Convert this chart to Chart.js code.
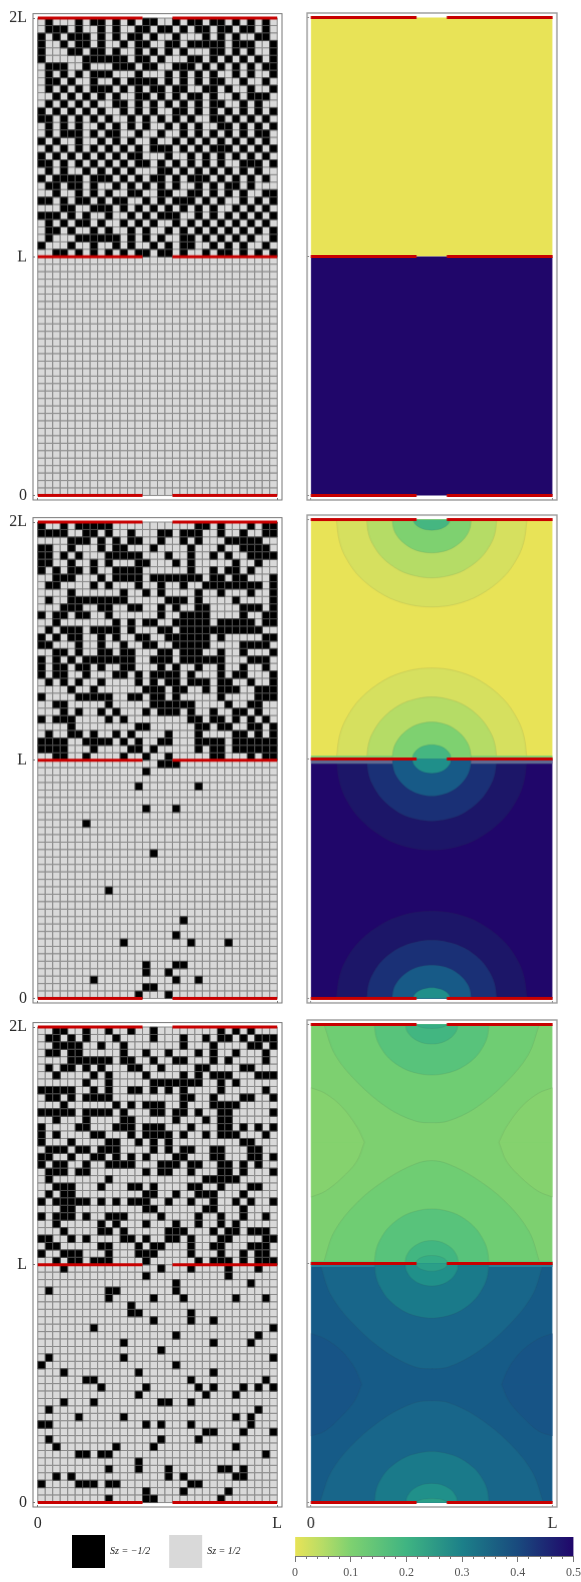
<!DOCTYPE html>
<html><head><meta charset="utf-8">
<style>html,body{margin:0;padding:0;background:#fff;width:581px;height:1582px;overflow:hidden;position:relative}canvas{position:absolute}</style>
<script src="https://cdn.jsdelivr.net/npm/chart.js@4"></script>
</head><body>
<script>
// ---------- tick labels ----------
const yTickLabels = ['0','L','2L'];
const xTickLabels = ['0','L'];
const colorbarTicks = [0,0.1,0.2,0.3,0.4,0.5];
const legendLabels = ['Sz = \u22121/2','Sz = 1/2'];

// ---------- spin lattices: columns of Sz=-1/2 cells per row, top row first ----------
const lattice1Upper = [
[1,5,7,8,10,12,14,15,18,20,21,23,24,26,28,30],
[1,2,3,5,8,10,13,14,16,17,19,21,22,24,25,27,28,30],
[0,2,4,5,6,8,10,12,13,15,18,22,24,26,29,30],
[0,3,5,6,8,11,13,14,17,18,20,21,22,23,24,26,27,28,31],
[0,4,5,7,8,10,13,15,17,19,23,24,26,28,31],
[0,6,7,8,9,10,11,13,14,16,20,21,23,25,27,29,31],
[1,2,3,6,10,11,12,14,15,18,19,20,22,24,26,28,30,31],
[1,3,5,7,8,9,13,17,19,21,23,26,28,31],
[1,2,4,7,10,12,13,14,15,17,19,21,23,24,27,30],
[1,3,5,7,8,9,11,13,15,16,18,19,22,23,25,28,31],
[2,4,6,8,10,13,14,16,18,20,21,23,26,28,29,30],
[1,3,5,7,10,11,13,15,17,19,21,23,24,27,29],
[0,2,4,6,8,11,13,15,18,19,21,23,25,27,29,31],
[0,1,3,5,7,9,12,14,16,18,20,23,24,26,28,30],
[1,3,5,8,10,12,14,17,19,21,24,25,27,29,31],
[1,3,4,5,7,9,10,13,16,19,21,23,25,27,29,30],
[0,2,5,8,10,12,15,18,20,22,24,26,28,30],
[1,3,5,7,9,11,13,15,16,17,19,21,23,24,25,27,29,31],
[0,2,4,6,8,10,12,13,17,20,22,24,26,28,30],
[0,1,3,5,7,9,11,13,14,16,18,20,22,24,27,28,29,31],
[1,3,6,8,10,12,16,17,19,21,23,25,27,29],
[0,2,3,4,5,7,8,9,11,13,15,16,18,20,21,22,24,26,28,30],
[1,2,4,5,7,10,12,14,16,18,21,23,25,26,28],
[2,5,7,9,12,13,16,17,20,21,23,25,27,30,31],
[0,1,3,5,6,8,10,11,14,16,18,19,20,22,24,27,29,31],
[3,4,7,8,9,11,13,15,17,19,21,23,26,28,30],
[0,1,2,4,6,9,12,14,16,17,18,21,23,25,27,29,31],
[1,3,5,6,8,11,13,15,18,20,22,24,26,28,30],
[1,2,4,7,9,12,14,17,19,21,23,25,27,29,31],
[1,5,6,7,8,9,10,12,14,16,19,20,22,24,26,28,31],
[0,4,7,10,12,15,17,19,20,23,25,27,30],
[2,3,5,7,9,11,13,14,16,17,19,22,24,25,27,29,31]];
const lattice1Lower = [];

const lattice2Upper = [
[0,3,5,6,7,8,9,21,22,24,28,30,31],
[0,1,2,3,6,7,9,12,16,17,19,20,21,24,27,30,31],
[4,5,6,8,10,12,13,16,19,21,25,26,27,28,29],
[0,1,4,8,10,11,15,20,24,27,28,29,30],
[0,1,3,5,9,10,11,12,13,17,20,23,25,28,29,30,31],
[0,1,4,7,9,13,14,18,20,26,29],
[0,2,4,5,7,10,11,12,13,20,23,25,26,28],
[2,3,4,8,10,11,12,13,15,16,17,18,19,20,21,23,24,26,27,31],
[1,2,7,9,13,16,19,22,23,24,25,26,27,28,29,31],
[4,11,14,16,21,24,28,31],
[1,4,5,6,7,8,9,10,11,17,18,19,21,26,31],
[3,4,5,8,9,12,13,16,18,21,22,27,28,29,31],
[0,2,3,5,6,9,16,19,20,21,22,27,30,31],
[2,10,12,14,15,18,19,20,21,22,24,25,26,27,28,30,31],
[1,3,4,5,7,8,9,10,12,16,17,19,20,21,22,23,24,25,26,27,28,29],
[0,2,4,5,8,10,13,14,17,18,19,20,21,22,24,30,31],
[0,1,5,8,11,14,15,18,19,20,21,22,27,28,29,30],
[2,3,5,8,9,11,12,16,17,19,20,21,24,27,31],
[0,2,4,6,7,8,9,10,11,12,15,16,17,19,20,21,22,23,24,28,29,30],
[0,2,3,5,6,8,11,12,16,18,21,24,27,30],
[0,2,3,6,10,11,13,15,16,17,18,20,24,26,27,31],
[1,3,5,8,13,15,17,18,20,21,22,24,25,28,31],
[4,7,14,15,16,18,19,22,24,25,26,29,30,31],
[0,5,6,7,8,9,12,13,15,16,18,24,29,30,31],
[2,3,9,15,16,17,18,19,20,25,28,29],
[3,5,8,10,14,16,17,18,20,23,26,27,29],
[0,2,3,4,9,11,20,21,23,24,26,28,30],
[4,13,14,21,22,24,25,28,29,31],
[1,4,5,7,10,12,17,21,26,27,29,31],
[0,1,2,3,6,7,8,9,11,13,16,17,21,22,23,24,26,27,28,29,30,31],
[0,1,2,3,7,12,13,15,21,23,24,26,27,28,29,30,31],
[2,3,6,11,14,17,23,24,28,30,31]];
const lattice2Lower = [
[16,17,18],[14],[],[13,21],[],[],[14,18],[],[6],[],[],[],[15],[],[],[],[],[9],[],[],[],
[19],[],[18],[11,20,25],[],[],[14,18,19],[14,17],[7,18,21],[14,15],[13,17]];

const lattice3Upper = [
[2,3,6,9,12,15,24,26,28],
[1,2,4,6,10,15,19,22,24,25,27,29,30,31],
[2,3,4,5,8,11,19,23,28,29,31],
[1,2,4,5,11,14,17,21,23,26,30],
[4,5,6,7,8,9,11,12,15,18,19,23,25,30],
[1,3,4,6,8,12,13,16,21,22,27,28],
[2,7,9,14,19,21,23,24,25,29,30,31],
[6,9,15,16,17,18,19,20,21,24,26],
[0,1,2,3,4,7,9,12,13,15,17,19,24,30],
[1,2,4,6,7,8,9,19,20,23,27,28,31],
[3,10,12,14,15,16,19,23,24,25,26],
[0,1,2,3,4,6,7,8,9,11,15,16,18,19,21,24,25,31],
[2,6,11,12,18,22,24,25],
[0,5,6,10,11,12,14,15,16,20,24,25,27,29,31],
[0,2,7,8,12,14,15,16,17,19,22,24,25,26,30],
[0,4,9,10,13,15,17,27,28],
[1,2,3,5,6,8,9,10,15,17,19,20,23,24,28,29],
[0,1,4,7,8,10,12,14,18,19,23,24,28,29,31],
[0,2,3,6,9,10,11,12,16,17,18,20,21,24,25,27,29],
[1,2,3,5,6,14,16,17,20,24,25,27,31],
[1,9,22,23,24,25,26],
[2,3,4,8,12,13,15,20,21,24,28,29],
[1,3,4,14,15,18,21,22,23,27],
[0,2,3,4,5,6,8,10,12,13,14,17,20,23,26,28,31],
[3,4,14,15,22,23,27],
[0,2,3,4,6,9,10,11,16,21,24,27,30],
[2,8,10,14,18,21,24,26],
[3,8,9,11,17,18,19,23,25,26,28,29,30],
[0,1,4,6,11,12,14,17,18,20,24,25,30,31],
[1,2,8,9,13,15,16,20,23,24,28,29,30],
[0,3,4,5,9,13,14,15,20,24,27,29,30],
[2,4,5,7,8,9,14,21,23,24,25,27,29,30,31]];
const lattice3Lower = [
[3,16,20,25,29],[14,25],[18,28],[1,9,10,18],[9,15,19,26,30],[12],[12,13,20],[15,20,23],
[7,31],[18,29],[11,23,28],[16],[1,11,31],[0,18],[3,13,23],[6,7,20,30],
[8,14,21,23,27,29,31],[13,22,26],[3,7,16,17,20],[1,29],[5,11,26,28],[0,1,14,16,20,28],[22,23,27,31],[1,16,21],
[2,10,15,26],[5,6,8,9,30],[13],[9,13,17,24,25,27],[2,4,17,19,26,27],[0,5,6,7,9,10,20,21],[14,19,25],[9,14,15,24]];

// ---------- electrode (red) segments ----------
const leadCellSpans = [[0,14],[18,32]];
const leadCellLevels = [0,32,64];
const leadSpans = [[0,0.4375],[0.5625,1]];
const leadLevels = [0,2,4];

// ---------- contour profiles: [distance from centre in L, height in L/2] ----------
const ringOuterEdge = [[.394,0],[.382,.177],[.355,.318],[.296,.483],[.197,.632],[.099,.707],[0,.730]];
const ringSecondEdge = [[.269,0],[.261,.118],[.242,.212],[.202,.322],[.135,.422],[.067,.471],[0,.487]];
const ringThirdEdge = [[.164,0],[.159,.068],[.148,.122],[.123,.184],[.082,.242],[.041,.270],[0,.279]];
const ringFourthEdge = [[.076,0],[.074,.022],[.068,.039],[.057,.059],[.038,.077],[.019,.086],[0,.089]];
const ringOuterMid = [[.394,0],[.382,.185],[.355,.331],[.296,.502],[.197,.658],[.099,.736],[0,.760]];
const ringSecondMid = [[.269,0],[.261,.126],[.242,.226],[.202,.342],[.135,.449],[.067,.501],[0,.518]];
const ringThirdMid = [[.164,0],[.159,.075],[.148,.135],[.123,.204],[.082,.268],[.041,.299],[0,.309]];
const ringFourthMid = [[.08,0],[.078,.029],[.072,.052],[.06,.079],[.04,.104],[.02,.116],[0,.120]];

const bellOuterTop = [[.445,0],[.399,.256],[.303,.493],[.179,.702],[.068,.808],[0,.822]];
const bellOuterMidUp = [[.448,0],[.402,.270],[.303,.521],[.179,.716],[.068,.833],[0,.861]];
const bellOuterMidDown = [[.462,0],[.415,.270],[.315,.525],[.186,.745],[.07,.865],[0,.880]];
const bellOuterBottom = [[.462,0],[.415,.26],[.315,.51],[.186,.72],[.07,.835],[0,.85]];
const capSecondTop = [[.237,0],[.230,.103],[.213,.184],[.178,.280],[.119,.366],[.059,.409],[0,.423]];
const capSecondMid = [[.237,0],[.230,.111],[.213,.199],[.178,.302],[.119,.396],[.059,.442],[0,.457]];
const capSecondBottom = [[.237,0],[.230,.104],[.213,.186],[.178,.282],[.119,.369],[.059,.412],[0,.426]];
const capThirdTop = [[.108,0],[.105,.040],[.097,.072],[.081,.108],[.054,.142],[.027,.159],[0,.164]];
const capThirdMidUp = [[.110,0],[.107,.047],[.099,.084],[.083,.127],[.055,.166],[.028,.186],[0,.192]];
const capThirdMidDown = [[.110,0],[.107,.046],[.099,.082],[.083,.125],[.055,.164],[.028,.183],[0,.189]];
const capThirdBottom = [[.106,0],[.103,.039],[.095,.070],[.080,.106],[.053,.139],[.027,.155],[0,.160]];
const capFourthEdge = [[.062,0],[.060,.008],[.056,.014],[.047,.022],[.031,.029],[.016,.032],[0,.033]];
const capFourthMidUp = [[.066,0],[.064,.016],[.059,.029],[.05,.044],[.033,.058],[.017,.065],[0,.067]];
const capFourthMidDown = [[.066,0],[.064,.016],[.059,.028],[.05,.042],[.033,.055],[.017,.062],[0,.064]];

const lobeUpperHigh = [[0,3.471],[.059,3.424],[.128,3.313],[.190,3.146],[.222,3.015]];
const lobeUpperLow = [[0,2.556],[.059,2.604],[.128,2.715],[.190,2.854],[.222,3.015]];
const lobeLowerHigh = [[0,1.415],[.059,1.370],[.128,1.267],[.181,1.128],[.211,.989]];
const lobeLowerLow = [[0,.557],[.059,.599],[.128,.724],[.181,.850],[.211,.989]];

// ---------- colour bar ----------
const colorbarStops = [0,0.05,0.1,0.2,0.3,0.4,0.5];
const colorbarColors = ['#e8e357','#b6dc66','#7ed170','#3fb482','#1c8089','#194a7e','#20066a'];

// ---------- helpers ----------
const serif = 'Liberation Serif';
const RED = '#c80000';
Chart.defaults.animation = false;
Chart.defaults.font.family = serif;

const framePlugin = {id:'frame', afterDraw(c,_a,o){
  const a=c.chartArea, g=c.ctx; g.save(); g.strokeStyle=o.color; g.lineWidth=o.width;
  g.strokeRect(a.left,a.top,a.right-a.left,a.bottom-a.top); g.restore();
}};

function place(w,h,x,y){
  const cv=document.createElement('canvas'); cv.width=w; cv.height=h;
  cv.style.cssText=`left:${x}px;top:${y}px;width:${w}px;height:${h}px`;
  document.body.appendChild(cv); return cv;
}
function axis(min,max,vals,labels,showLabels,fit,pad,tickColor){
  return {type:'linear',min,max,
    afterBuildTicks:s=>{s.ticks=vals.map(v=>({value:v}));},
    afterFit:fit,
    border:{display:false},
    grid:{drawOnChartArea:false,drawTicks:true,tickLength:-2,tickColor,lineWidth:1},
    ticks:{display:showLabels,autoSkip:false,maxRotation:0,padding:pad,color:'#2b2b2b',
      font:{family:serif,size:16},callback:(v,i)=>labels[i]}
  };
}
function makePanel(type,datasets,box,xAxis,yAxis,frame){
  const [fx0,fy0,fx1,fy1]=box;
  const cvx=fx0-33, cvy=fy0-15, w=fx1-cvx+30, h=fy1-cvy+40;
  new Chart(place(w,h,cvx,cvy),{type,data:{datasets},plugins:[framePlugin],options:{
    responsive:false,maintainAspectRatio:false,events:[],
    layout:{padding:{left:0,top:15,right:30,bottom:0}},
    plugins:{legend:{display:false},tooltip:{enabled:false},frame},
    scales:{x:xAxis,y:yAxis}}});
}
function cellData(upper,lower){
  const black=[],light=[];
  const add=(rows,topY)=>{for(let r=0;r<32;r++){const set=rows[r]||[];
    for(let c=0;c<32;c++){(set.includes(c)?black:light).push({x:c+.5,y:topY-r-.5});}}};
  add(upper,64); add(lower,32);
  return {black,light};
}
function latticeChart(upper,lower,box,showX){
  const d=cellData(upper,lower);
  const radius=7.5/Math.SQRT2;
  const sets=[];
  leadCellLevels.forEach(y=>leadCellSpans.forEach(s=>sets.push({data:[{x:s[0],y},{x:s[1],y}],showLine:true,
    borderColor:RED,borderWidth:3,pointRadius:0,order:0})));
  sets.push({data:d.black,pointStyle:'rect',pointRadius:radius,backgroundColor:'#000',borderColor:'#4a4a4a',borderWidth:1,order:1});
  sets.push({data:d.light,pointStyle:'rect',pointRadius:radius,backgroundColor:'#d9d9d9',borderColor:'#8a8a8a',borderWidth:1,order:2});
  makePanel('scatter',sets,box,
    axis(-.64,32.64,[0,32],xTickLabels,showX,s=>{s.height=40;},9,'#777'),
    axis(-.6,64.6,[0,32,64],yTickLabels,true,s=>{s.width=33;},8,'#777'),
    {color:'#777',width:1});
}
function area(pts,base,color,line){
  return {data:pts,fill:{value:base},backgroundColor:color,borderColor:line||'rgba(70,70,70,.18)',
    borderWidth:.6,pointRadius:0,tension:.35};
}
function dome(profile,base,dir,color){
  const l=profile.map(p=>({x:.5-p[0],y:base+dir*p[1]}));
  const r=profile.slice(0,-1).reverse().map(p=>({x:.5+p[0],y:base+dir*p[1]}));
  return area(l.concat(r),base,color);
}
function lobe(profile,side,base,color){
  return area(profile.map(p=>({x:side?1-p[0]:p[0],y:p[1]})),base,color);
}
function strip(lo,hi,color){
  return {data:[{x:0,y:hi},{x:1,y:hi}],fill:{value:lo},backgroundColor:color,borderWidth:0,pointRadius:0,tension:0};
}
function fieldChart(layers,box,showX){
  const sets=layers.map((d,i)=>Object.assign(d,{order:layers.length-i+1}));
  leadLevels.forEach(y=>leadSpans.forEach(s=>sets.push({data:[{x:s[0],y},{x:s[1],y}],fill:false,
    borderColor:RED,borderWidth:3,pointRadius:0,tension:0,order:0})));
  makePanel('line',sets,box,
    axis(-.0152,1.018,[0,1],xTickLabels,showX,s=>{s.height=40;},9,'#888'),
    axis(-.0376,4.0376,[0,2,4],yTickLabels,false,s=>{s.width=33;},8,'#888'),
    {color:'#9a9a9a',width:1.4});
}

// ---------- left column ----------
latticeChart(lattice1Upper,lattice1Lower,[33,11,282,499.5],false);
latticeChart(lattice2Upper,lattice2Lower,[33,515.3,282,1002.8],false);
latticeChart(lattice3Upper,lattice3Lower,[33,1019.7,282,1507.3],true);

// ---------- right column ----------
const YEL='#e8e357', NAVY='#20066a';
fieldChart([strip(2,4,YEL),strip(0,2,NAVY)],[307,13,556.7,500],false);

const warm=['#d6e05f','#b5dc66','#7ed170','#45b681'];
const cool=['#1c1668','#1a3076','#175a87','#1f8f8a'];
fieldChart([
  strip(2,4,YEL),strip(0,2,NAVY),
  dome(ringOuterEdge,4,-1,warm[0]),dome(ringSecondEdge,4,-1,warm[1]),dome(ringThirdEdge,4,-1,warm[2]),dome(ringFourthEdge,4,-1,warm[3]),
  dome(ringOuterMid,2,1,warm[0]),dome(ringSecondMid,2,1,warm[1]),
  dome(ringOuterMid,2,-1,cool[0]),dome(ringSecondMid,2,-1,cool[1]),
  strip(2,2.028,'#79cf70'),strip(1.96,2,'#5f6890'),
  dome(ringThirdMid,2,1,warm[2]),dome(ringFourthMid,2,1,warm[3]),
  dome(ringThirdMid,2,-1,cool[2]),dome(ringFourthMid,2,-1,cool[3]),
  dome(ringOuterEdge,0,1,cool[0]),dome(ringSecondEdge,0,1,cool[1]),dome(ringThirdEdge,0,1,cool[2]),dome(ringFourthEdge,0,1,cool[3])
],[307,515.3,556.7,1002.8],false);

const green=['#7dd070','#85d26e','#6fcd73','#58c37b','#42b681','#36ad85'];
const blue=['#165b87','#175486','#18668a','#1a7a8a','#20908a','#2b9f88'];
fieldChart([
  strip(2,4,green[0]),strip(0,2,blue[0]),
  lobe(lobeUpperHigh,0,3.015,green[1]),lobe(lobeUpperLow,0,3.015,green[1]),
  lobe(lobeUpperHigh,1,3.015,green[1]),lobe(lobeUpperLow,1,3.015,green[1]),
  lobe(lobeLowerHigh,0,.989,blue[1]),lobe(lobeLowerLow,0,.989,blue[1]),
  lobe(lobeLowerHigh,1,.989,blue[1]),lobe(lobeLowerLow,1,.989,blue[1]),
  dome(bellOuterTop,4,-1,green[2]),dome(capSecondTop,4,-1,green[3]),dome(capThirdTop,4,-1,green[4]),dome(capFourthEdge,4,-1,green[5]),
  dome(bellOuterMidUp,2,1,green[2]),dome(bellOuterMidDown,2,-1,blue[2]),
  strip(2,2.02,'#62c878'),strip(1.97,2,'#2a8098'),
  dome(capSecondMid,2,1,green[3]),dome(capThirdMidUp,2,1,green[4]),dome(capFourthMidUp,2,1,green[5]),
  dome(capSecondMid,2,-1,blue[3]),dome(capThirdMidDown,2,-1,blue[4]),dome(capFourthMidDown,2,-1,blue[5]),
  dome(bellOuterBottom,0,1,blue[2]),dome(capSecondBottom,0,1,blue[3]),dome(capThirdBottom,0,1,blue[4]),dome(capFourthEdge,0,1,blue[5])
],[307,1019.7,556.7,1507.3],true);

// ---------- legend ----------
new Chart(place(240,200,53,1516),{type:'bar',
  data:{labels:[],datasets:[
    {label:legendLabels[0],data:[],backgroundColor:'#000',borderWidth:0},
    {label:legendLabels[1],data:[],backgroundColor:'#d9d9d9',borderWidth:0}]},
  options:{responsive:false,maintainAspectRatio:false,events:[],scales:{x:{display:false},y:{display:false}},
    plugins:{tooltip:{enabled:false},legend:{display:true,position:'top',align:'start',
      labels:{boxWidth:33,boxHeight:33,padding:19,color:'#222',font:{family:serif,style:'italic',size:10}}}}}});

// ---------- colour bar ----------
function barFill(ctx){
  const c=ctx.chart; if(!c.chartArea) return colorbarColors[0];
  const x=c.scales.x, g=c.ctx.createLinearGradient(x.getPixelForValue(0),0,x.getPixelForValue(.5),0);
  colorbarStops.forEach((s,i)=>g.addColorStop(s/.5,colorbarColors[i]));
  return g;
}
new Chart(place(320,48,280,1534),{type:'bar',
  data:{labels:[''],datasets:[{data:[[0,.5]],backgroundColor:barFill,barPercentage:1,categoryPercentage:1,borderWidth:0}]},
  options:{indexAxis:'y',responsive:false,maintainAspectRatio:false,events:[],
    layout:{padding:{left:15,right:26.5,top:3,bottom:0}},
    plugins:{legend:{display:false},tooltip:{enabled:false}},
    scales:{
      y:{display:false},
      x:{type:'linear',position:'bottom',min:0,max:.5,afterFit:s=>{s.height=26;},
        afterBuildTicks:s=>{s.ticks=colorbarTicks.map(v=>({value:v}));},
        border:{display:true,color:'#777'},
        grid:{drawOnChartArea:false,tickLength:6,tickColor:'#777'},
        ticks:{autoSkip:false,maxRotation:0,padding:4,color:'#555',font:{family:serif,size:12},
          callback:(v,i)=>String(colorbarTicks[i])}},
      x2:{type:'linear',position:'bottom',weight:-1,min:0,max:.5,afterFit:s=>{s.height=0;},
        border:{display:false},
        grid:{drawOnChartArea:false,tickLength:3,tickColor:'#777'},
        ticks:{stepSize:.02,autoSkip:false,callback:()=>''}}
    }}});
</script>
</body></html>
